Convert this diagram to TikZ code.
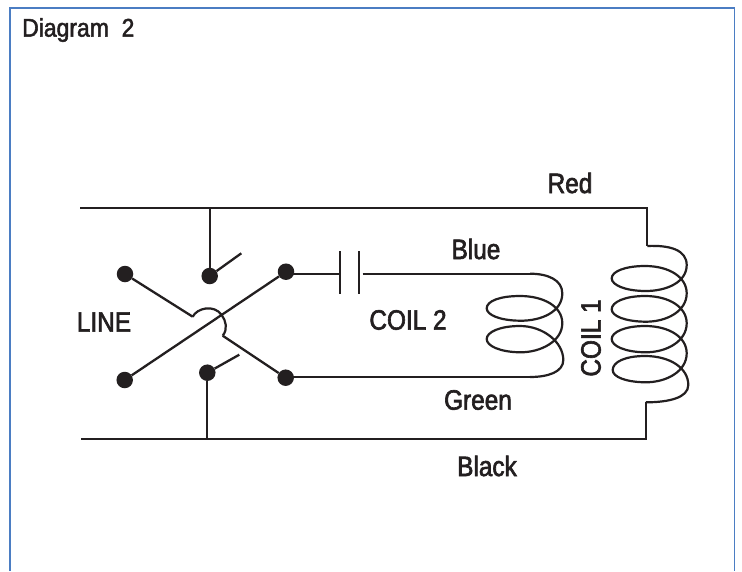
\documentclass[tikz,border=0pt]{standalone}
\usepackage{fontspec}
\setmainfont[FakeStretch=0.87,FakeBold=2.2]{Liberation Sans}
\newfontfamily\titlefont[FakeStretch=0.9,FakeBold=2]{Liberation Sans}
\definecolor{framec}{RGB}{75,125,195}
\definecolor{inkc}{RGB}{35,31,32}
\tikzset{
 wire/.style={draw=inkc,line width=2.3pt,line join=miter},
 coilw/.style={draw=inkc,line width=2.2pt,line join=round},
 term/.style={circle,fill=inkc,minimum size=16.5pt,inner sep=0pt},
 lab/.style={text=inkc,font=\fontsize{28}{32}\selectfont,inner sep=0pt},
}
\begin{document}
\begin{tikzpicture}[x=1pt,y=-1pt]
\useasboundingbox (0,0) rectangle (742,571);
\fill[white] (0,0) rectangle (742,571);
\draw[framec,line width=1.9pt] (10,571) -- (10,8) -- (734.5,8) -- (734.5,571);
\node[lab,anchor=west,font=\titlefont\fontsize{25.5}{30}\selectfont] (title) at (22,30) {Diagram\ \ 2};
\node[lab] (red) at (570,183) {Red};
\node[lab] (blue) at (476,249) {Blue};
\node[lab] (green) at (478,400) {Green};
\node[lab] (black) at (487,466) {Black};
\node[lab] (line) at (104,322) {LINE};
\node[lab] (coiltwo) at (408,320) {COIL 2};
\node[lab,rotate=90] (coilone) at (591,338) {COIL 1};
\node[term] (tl) at (125,274) {};
\node[term] (tm) at (209.7,276) {};
\node[term] (tr) at (286,271.7) {};
\node[term] (bl) at (124.7,380) {};
\node[term] (bm) at (207.3,372.7) {};
\node[term] (br) at (285.7,377.7) {};
\coordinate (rs) at (80,208);
\coordinate (rc) at (647.3,208);
\coordinate (rj) at (209.7,208);
\coordinate (ks) at (81,439);
\coordinate (kc) at (646,439);
\coordinate (kj) at (207.3,439);
\coordinate (c1t) at (647.3,246);
\coordinate (c1b) at (646,402.3);
\coordinate (bt) at (241.3,253.3);
\coordinate (bb) at (239.3,354.7);
\coordinate (a1) at (192.7,316.7);
\coordinate (a2) at (222.7,335.7);
\coordinate (p1) at (340.3,273.7);
\coordinate (p2) at (362.7,273.7);
\coordinate (w2) at (530,273.7);
\coordinate (w3) at (530,377);
\draw[wire] (rs) -- (rc) -- (c1t);
\draw[wire] (rj) -- (tm);
\draw[wire] (tm) -- (bt);
\draw[wire] (ks) -- (kc) -- (c1b);
\draw[wire] (kj) -- (bm);
\draw[wire] (bm) -- (bb);
\draw[wire] (tl) -- (a1);
\draw[wire] (a2) -- (br);
\draw[wire] (tr) -- (bl);
\draw[wire] (tr |- p1) -- (p1);
\draw[wire] (p2) -- (w2);
\draw[wire] (br |- w3) -- (w3);
\draw[wire] (340.3,251) -- (340.3,294);
\draw[wire] (359.3,251) -- (359.3,294);
\draw[coilw] (a1) .. controls (197,308) and (214,304) .. (221.7,315) .. controls (226,321) and (228,329) .. (a2);
% coil 2
\draw[coilw] (w2) .. controls (548,273.7) and (562.3,280) .. (562.3,293.3)
 .. controls (562.3,312) and (541,321) .. (520,320.7)
 .. controls (500,320.5) and (486.7,315) .. (486.7,308.3)
 .. controls (486.7,301) and (500,296) .. (520,296)
 .. controls (543,296) and (562.3,306) .. (562.3,323.3)
 .. controls (562.3,341) and (541,352.5) .. (520,352.3)
 .. controls (500,352) and (486.7,346) .. (486.7,339)
 .. controls (486.7,332) and (500,326) .. (520,326)
 .. controls (543,326) and (563.3,342) .. (563.3,360)
 .. controls (563.3,372) and (548,377) .. (w3);
% coil 1
\draw[coilw] (c1t) .. controls (670,245) and (686.7,250) .. (686.7,265)
 .. controls (686.7,282) and (667,291.2) .. (645,291)
 .. controls (625,290.8) and (611.7,285) .. (611.7,278.3)
 .. controls (611.7,271.5) and (625,266) .. (645,266)
 .. controls (669,266) and (686.7,277) .. (686.7,293.3)
 .. controls (686.7,311) and (667,322) .. (645,321.7)
 .. controls (625,321.4) and (611.7,316) .. (611.7,309.3)
 .. controls (611.7,302) and (625,296) .. (645,296)
 .. controls (669,296) and (686.7,307) .. (686.7,323.3)
 .. controls (686.7,341) and (667,352.5) .. (645,352.3)
 .. controls (625,352) and (611.7,346) .. (611.7,339)
 .. controls (611.7,332) and (625,326) .. (645,326)
 .. controls (669,326) and (686.7,337) .. (686.7,353.3)
 .. controls (686.7,371) and (667,382.5) .. (645,382.3)
 .. controls (626,382) and (612.7,377) .. (612.7,370)
 .. controls (612.7,362) and (625,356) .. (645,356)
 .. controls (670,356) and (688.3,368) .. (688.3,385)
 .. controls (688.3,398) and (668,402.3) .. (c1b);
\end{tikzpicture}
\end{document}
